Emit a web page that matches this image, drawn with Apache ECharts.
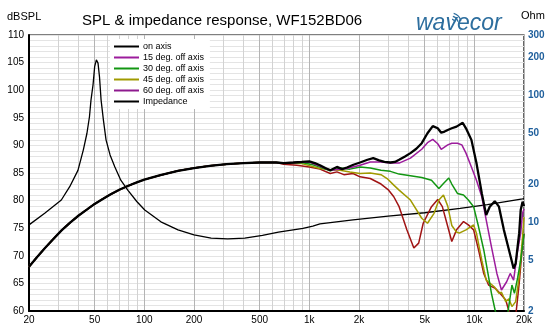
<!DOCTYPE html>
<html><head><meta charset="utf-8">
<script src="https://cdn.jsdelivr.net/npm/echarts@6/dist/echarts.min.js"></script>
<style>html,body{margin:0;padding:0;background:#fff}#c{width:550px;height:325px}</style>
</head><body><div id="c"></div>
<script>
// shared low-frequency part (all SPL curves coincide here)
const lowFreq = [20,22.4,25,28,31.5,35.5,40,45,50,56,63,71,80,90,100,125,160,200,250,315,400,500,630];
const lowDb   = [68,69.8,71.4,73.0,74.6,76.0,77.3,78.4,79.4,80.3,81.2,82.0,82.7,83.3,83.8,84.6,85.4,85.9,86.3,86.6,86.8,86.9,86.9];

const onFreq = [700,800,900,1000,1080,1160,1250,1340,1470,1580,1690,1850,2030,2250,2440,2650,2850,3100,3300,3500,3800,4100,4450,4800,5200,5600,6000,6300,6600,6900,7300,7800,8500,8900,9600,10300,11100,11800,12400,13300,14100,15100,16200,17300,17800,18700,19100,19600,20000];
const onDb   = [86.8,86.9,87.0,87.1,86.8,86.4,85.9,85.5,86.1,85.7,86.0,86.5,86.9,87.4,87.7,87.3,87.0,86.9,87.0,87.4,88.0,88.6,89.4,90.4,92.2,93.5,93.1,92.3,92.5,92.8,93.1,93.4,94.1,93.1,91.0,86.8,81.3,77.4,78.9,79.9,78.9,74.7,71.1,67.7,68.6,74.1,78.3,79.8,79.0];

const d15Freq = [700,1000,1340,1690,2030,2340,2720,3100,3500,4100,4800,5200,5600,6000,6300,6900,7300,7900,8400,8900,9600,10300,11100,11800,12700,13700,14600,15700,16500,17300,18200,19100,19600,20000];
const d15Db   = [86.8,87.0,85.5,85.8,86.4,87.0,87.0,86.8,86.8,87.7,89.3,90.5,91.1,90.3,89.3,90.1,90.4,90.4,90.1,88.6,86.1,83.7,80.7,76.5,71.6,66.8,63.8,65.3,66.8,65.6,70.5,74.1,77.7,78.5];

const d30Freq = [700,900,1050,1160,1340,1540,1760,2030,2340,2720,3100,3500,4100,4800,5500,6100,6500,7000,7300,7900,8600,9200,9900,10600,11400,12200,12700,13400,14500,15500,16200,16900,17500,18300,19100,19600,20000];
const d30Db   = [86.8,86.9,86.5,86.1,85.4,85.9,85.7,86.1,85.9,85.5,85.3,84.8,84.5,84.2,83.7,82.2,83.1,84.1,83.0,81.3,81.0,80.1,78.9,75.3,71.1,66.2,63.2,60.0,57.0,57.0,61.0,64.7,63.2,66.0,69.2,71.8,74.0];

const d45Freq = [700,900,1160,1340,1540,1760,2030,2340,2720,2960,3250,3500,4100,4800,5200,5700,6100,6500,6900,7300,7800,8100,8900,9900,10300,11100,11800,13200,14100,14600,15500,16200,16900,17800,18700,19600,20000];
const d45Db   = [86.8,86.7,85.8,85.6,85.5,85.2,84.9,85.0,84.7,84.0,82.8,81.9,80.1,76.8,75.9,77.7,80.1,81.0,79.0,75.5,74.3,74.1,74.7,75.6,74.1,69.2,65.6,64.4,63.2,63.4,61.7,62.2,60.8,61.7,66.2,73.5,77.0];

const d60Freq = [700,840,1000,1160,1340,1470,1620,1840,2030,2340,2720,3000,3250,3500,3900,4300,4600,4900,5500,6000,6400,6900,7300,7800,8600,9200,9900,10600,11400,12200,13400,14300,15500,16200,16900,17800,18700,19600,20000];
const d60Db   = [86.6,86.4,86.1,85.7,84.9,85.2,84.7,84.9,84.3,84.0,83.0,82.0,80.7,78.9,74.7,71.4,72.3,75.9,78.9,80.2,78.9,75.3,72.6,74.7,76.2,75.6,74.7,71.1,66.8,64.7,64.1,63.2,62.0,60.0,58.0,59.0,65.0,72.0,74.0];

const impFreq = [20,24.9,31.4,35.3,39.6,42.7,44.9,46.5,47.5,48.9,50,51.2,52.4,53.5,54.7,56.5,58.6,62,66.3,72,79.6,90,100.6,126,160,200,254,320,406,520,650,915,1050,1160,1840,3000,5000,8200,12000,19600,20000];
const impOhm  = [9.55,11.8,15.0,19.1,25.7,37.3,50.4,68,92,122,169,191,180,140,92,64,44.7,34,27.3,21.5,17.9,14.6,12.5,10.1,8.72,7.97,7.50,7.42,7.50,7.89,8.38,8.98,9.35,9.74,10.44,11.2,11.9,12.9,13.8,15.3,15.4];

const freqTicks = [20,50,100,200,500,1000,2000,5000,10000,20000];
const freqMinor = [30,40,60,70,80,90,300,400,600,700,800,900,3000,4000,6000,7000,8000,9000];
const ohmTicks = [2,5,10,20,50,100,200,300];
const seriesNames = ['on axis','15 deg. off axis','30 deg. off axis','45 deg. off axis','60 deg. off axis','Impedance'];

function pairs(f, v) { return f.map((x, i) => [x, v[i]]); }
const FONT = 'Liberation Sans, Arial, sans-serif';
function fmtFreq(v) { return v >= 1000 ? (v / 1000) + 'k' : String(v); }

const chart = echarts.init(document.getElementById('c'), null, {renderer: 'canvas'});
const grid = {left: 29, right: 26, top: 35, bottom: 14, show: true, borderColor: '#000', borderWidth: 1.2, backgroundColor: 'transparent'};

chart.setOption({
  animation: false,
  backgroundColor: '#fff',
  title: {text: 'SPL & impedance response, WF152BD06', left: 77, top: 8,
    textStyle: {fontFamily: FONT, fontSize: 15, fontWeight: 'normal', color: '#000'}},
  grid: grid,
  legend: {
    orient: 'vertical', left: 110, top: 39, padding: [3, 6, 3, 3],
    backgroundColor: '#fff', itemWidth: 25, itemHeight: 8, itemGap: 2,
    itemStyle: {opacity: 0},
    textStyle: {fontFamily: FONT, fontSize: 9, color: '#000', lineHeight: 9, padding: [0, 0, 0, -1]},
    data: [
      {name: seriesNames[0], itemStyle: {opacity: 0}},
      {name: seriesNames[1], itemStyle: {opacity: 0}},
      {name: seriesNames[2], itemStyle: {opacity: 0}},
      {name: seriesNames[3], itemStyle: {opacity: 0}},
      {name: seriesNames[4], itemStyle: {opacity: 0}, lineStyle: {color: '#8e1a8e'}},
      {name: seriesNames[5], itemStyle: {opacity: 0}}
    ]
  },
  xAxis: [
    {type: 'log', min: 20, max: 20000, logBase: 10,
     axisLine: {show: true, onZero: false, lineStyle: {color: '#000', width: 2}},
     axisTick: {show: false, customValues: freqTicks},
     axisLabel: {customValues: freqTicks, formatter: fmtFreq, fontFamily: FONT, fontSize: 10, color: '#000', margin: 4},
     splitLine: {show: true, customValues: freqTicks, lineStyle: {color: '#b4b4b4', width: 1}}},
    {type: 'log', min: 20, max: 20000, logBase: 10, gridIndex: 0,
     axisLine: {show: false}, axisLabel: {show: false},
     axisTick: {show: false, customValues: freqMinor},
     splitLine: {show: true, customValues: freqMinor, lineStyle: {color: '#d2d2d2', width: 1}}}
  ],
  yAxis: [
    {type: 'value', min: 60, max: 110, interval: 5,
     axisLine: {show: true, onZero: false, lineStyle: {color: '#000', width: 2}},
     axisTick: {show: false},
     axisLabel: {fontFamily: FONT, fontSize: 10, color: '#000', margin: 5},
     splitLine: {show: true, lineStyle: {color: '#bcbcbc', width: 1}}},
    {type: 'log', min: 2, max: 300, logBase: 10, position: 'right',
     axisLine: {show: false}, axisTick: {show: false, customValues: ohmTicks},
     axisLabel: {customValues: ohmTicks, fontFamily: FONT, fontSize: 10, fontWeight: 'bold', color: '#1f5f9c', margin: 4},
     splitLine: {show: false}},
    {type: 'value', min: 60, max: 110, interval: 1, position: 'left',
     axisLine: {show: false}, axisTick: {show: false}, axisLabel: {show: false},
     splitLine: {show: true, lineStyle: {color: '#e4e4e4', width: 1}}}
  ],
  series: [
    {name: seriesNames[5], type: 'line', yAxisIndex: 1, showSymbol: false, symbol: 'none', smooth: false,
     data: pairs(impFreq, impOhm), lineStyle: {color: '#000', width: 1.3}, itemStyle: {color: '#000'}, z: 3},
    {name: seriesNames[4], type: 'line', showSymbol: false, symbol: 'none',
     data: pairs(lowFreq.concat(d60Freq), lowDb.concat(d60Db)), lineStyle: {color: '#a01414', width: 1.5}, itemStyle: {color: '#a01414'}, z: 4},
    {name: seriesNames[3], type: 'line', showSymbol: false, symbol: 'none',
     data: pairs(lowFreq.concat(d45Freq), lowDb.concat(d45Db)), lineStyle: {color: '#a09a00', width: 1.5}, itemStyle: {color: '#a09a00'}, z: 5},
    {name: seriesNames[2], type: 'line', showSymbol: false, symbol: 'none',
     data: pairs(lowFreq.concat(d30Freq), lowDb.concat(d30Db)), lineStyle: {color: '#129612', width: 1.5}, itemStyle: {color: '#129612'}, z: 6},
    {name: seriesNames[1], type: 'line', showSymbol: false, symbol: 'none',
     data: pairs(lowFreq.concat(d15Freq), lowDb.concat(d15Db)), lineStyle: {color: '#9c1c9c', width: 1.5}, itemStyle: {color: '#9c1c9c'}, z: 7},
    {name: seriesNames[0], type: 'line', showSymbol: false, symbol: 'none',
     data: pairs(lowFreq.concat(onFreq), lowDb.concat(onDb)), lineStyle: {color: '#000', width: 2.3}, itemStyle: {color: '#000'}, z: 8}
  ],
  graphic: [
    {type: 'text', left: 7, top: 11, style: {text: 'dBSPL', fontFamily: FONT, fontSize: 11, fill: '#000'}},
    {type: 'text', left: 521, top: 10, style: {text: 'Ohm', fontFamily: FONT, fontSize: 11, fill: '#000'}},
    {type: 'text', left: 416, top: 12, style: {text: 'wavecor', fontFamily: FONT, fontSize: 23, fontStyle: 'italic', fill: '#2d6e9e'}},
    {type: 'arc', shape: {cx: 451, cy: 23, r: 4, startAngle: -1.3, endAngle: -0.2}, style: {stroke: '#2d6e9e', lineWidth: 1.3, fill: null}},
    {type: 'arc', shape: {cx: 451, cy: 23, r: 7, startAngle: -1.3, endAngle: -0.2}, style: {stroke: '#2d6e9e', lineWidth: 1.3, fill: null}},
    {type: 'arc', shape: {cx: 451, cy: 23, r: 10, startAngle: -1.3, endAngle: -0.2}, style: {stroke: '#2d6e9e', lineWidth: 1.3, fill: null}}
  ]
});
</script></body></html>
